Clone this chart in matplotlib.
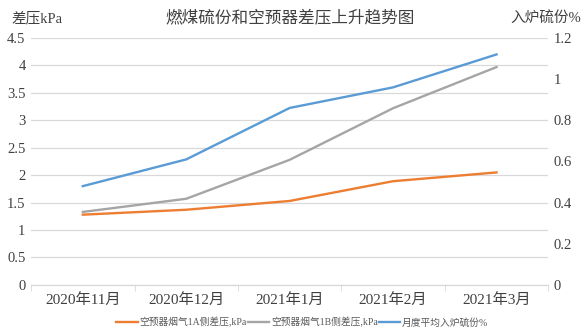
import matplotlib
matplotlib.use("Agg")
import matplotlib.pyplot as plt
import numpy as np

months = ["2020年11月", "2020年12月", "2021年1月", "2021年2月", "2021年3月"]
dp_a = [1.28, 1.37, 1.53, 1.89, 2.05]
dp_b = [1.33, 1.57, 2.28, 3.22, 3.97]
sulfur = [0.48, 0.61, 0.86, 0.96, 1.12]

FAM = ["Liberation Serif", "Noto Sans CJK SC"]
plt.rcParams["font.family"] = FAM
TXT = "#404040"

fig = plt.figure(figsize=(5.87, 3.36), dpi=100)
ax = fig.add_axes([0.053, 0.152, 0.881, 0.735])
ax2 = ax.twinx()

x = np.arange(len(months))
la, = ax.plot(x, dp_a, color="#ED7D31", lw=1.7, label="空预器烟气1A侧差压,kPa")
lb, = ax.plot(x, dp_b, color="#A5A5A5", lw=1.7, label="空预器烟气1B侧差压,kPa")
ls, = ax2.plot(x, sulfur, color="#5B9BD5", lw=1.7, label="月度平均入炉硫份%")

ax.set_xlim(-0.5, len(months) - 0.5)
ax.set_ylim(0, 4.5)
ax.set_yticks(np.arange(0, 4.51, 0.5))
ax.set_yticklabels(["0", "0.5", "1", "1.5", "2", "2.5", "3", "3.5", "4", "4.5"])
ax2.set_ylim(0, 1.2)
ax2.set_yticks(np.arange(0, 1.21, 0.2))
ax2.set_yticklabels(["0", "0.2", "0.4", "0.6", "0.8", "1", "1.2"])

ax.set_xticks(x)
ax.set_xticklabels(months, fontsize=11, color=TXT)
ax.set_xticks(np.arange(-0.5, len(months), 1), minor=True)
ax.tick_params(axis="x", which="major", length=0, pad=6)
ax.tick_params(axis="x", which="minor", length=4, color="#D9D9D9")
ax.tick_params(axis="y", length=0, labelsize=10.5, labelcolor=TXT, pad=4)
ax2.tick_params(axis="y", length=0, labelsize=10.5, labelcolor=TXT, pad=4)

ax.grid(axis="y", color="#D9D9D9", lw=0.9)
ax.set_axisbelow(True)
for a in (ax, ax2):
    for s in ("top", "left", "right"):
        a.spines[s].set_visible(False)
    a.spines["bottom"].set_color("#D9D9D9")

fig.text(0.495, 0.945, "燃煤硫份和空预器差压上升趋势图", ha="center", va="center",
         fontsize=12, color=TXT)
fig.text(0.02, 0.945, "差压kPa", ha="left", va="center", fontsize=10.5, color=TXT)
fig.text(0.99, 0.945, "入炉硫份%", ha="right", va="center", fontsize=10.5, color=TXT)

fig.legend(handles=[la, lb, ls], loc="center", bbox_to_anchor=(0.515, 0.04), ncol=3,
           frameon=False, fontsize=7, labelcolor="#595959", handlelength=2.2,
           handletextpad=0.2, columnspacing=0.1)

fig.savefig("out.png", dpi=100)
